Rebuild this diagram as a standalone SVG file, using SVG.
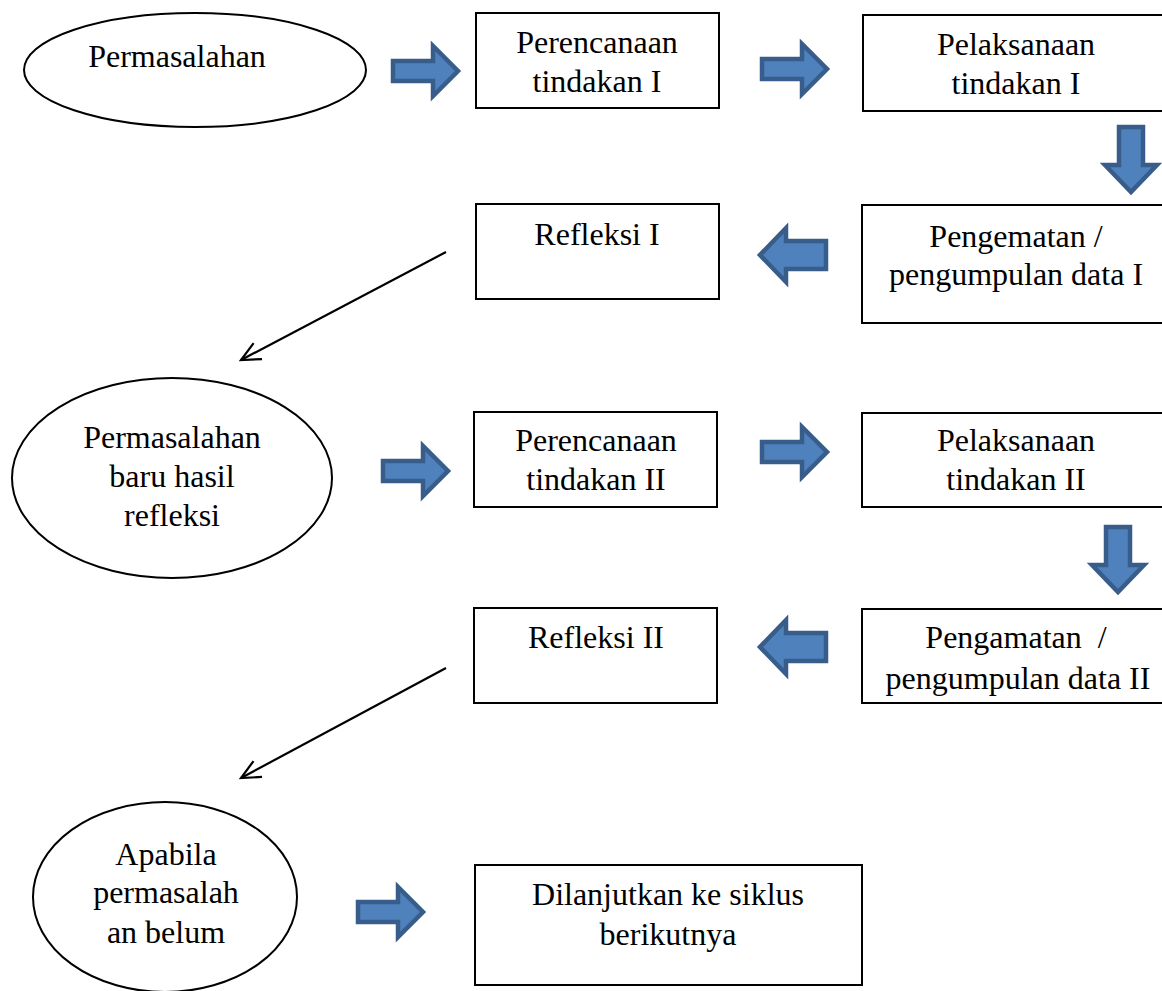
<svg xmlns="http://www.w3.org/2000/svg" xmlns:xlink="http://www.w3.org/1999/xlink" width="1162" height="991" viewBox="0 0 1162 991">
<style>
.node{fill:#fff;stroke:#000;stroke-width:2}
.t{font-family:"Liberation Serif","Times New Roman",serif;font-size:32px;fill:#000;text-anchor:middle}
.blk{fill:#4F81BD;stroke:#385D8A;stroke-width:4.5;stroke-linejoin:miter}
.ln{stroke:#000;stroke-width:2.2;fill:none}
</style>
<defs>
<path id="ar" class="blk" d="M2,-10 H42 V-25 L67,0 L42,25 V10 H2 Z"/>
<path id="al" class="blk" d="M-2,-14 H-42 V-27 L-68,0 L-42,27 V14 H-2 Z"/>
<path id="ad" class="blk" d="M-12,2 V40 H-26 L0,67 L26,40 H12 V2 Z"/>
<marker id="open" markerWidth="24" markerHeight="24" refX="21" refY="12" orient="auto" markerUnits="userSpaceOnUse">
<path d="M2,3 L21,12 L2,21" fill="none" stroke="#000" stroke-width="2.2"/>
</marker>
</defs>
<rect width="1162" height="991" fill="#fff"/>

<g id="n-permasalahan">
<ellipse class="node" cx="195" cy="70" rx="171" ry="57"/>
<text class="t" x="177" y="67">Permasalahan</text>
</g>
<g id="n-perencanaan1">
<rect class="node" x="476" y="13" width="243" height="95"/>
<text class="t" x="597" y="53">Perencanaan</text>
<text class="t" x="597" y="92">tindakan I</text>
</g>
<g id="n-pelaksanaan1">
<rect class="node" x="863" y="15" width="310" height="96"/>
<text class="t" x="1016" y="55">Pelaksanaan</text>
<text class="t" x="1016" y="94">tindakan I</text>
</g>
<g id="n-refleksi1">
<rect class="node" x="476" y="204" width="243" height="95"/>
<text class="t" x="597" y="245">Refleksi I</text>
</g>
<g id="n-pengamatan1">
<rect class="node" x="862" y="205" width="311" height="118"/>
<text class="t" x="1016" y="247">Pengematan /</text>
<text class="t" x="1016" y="285">pengumpulan data I</text>
</g>
<g id="n-permasalahan2">
<ellipse class="node" cx="172" cy="478" rx="160" ry="100"/>
<text class="t" x="172" y="448">Permasalahan</text>
<text class="t" x="172" y="487">baru hasil</text>
<text class="t" x="172" y="526">refleksi</text>
</g>
<g id="n-perencanaan2">
<rect class="node" x="474" y="412" width="243" height="95"/>
<text class="t" x="596" y="451">Perencanaan</text>
<text class="t" x="596" y="490">tindakan II</text>
</g>
<g id="n-pelaksanaan2">
<rect class="node" x="862" y="413" width="311" height="94"/>
<text class="t" x="1016" y="451">Pelaksanaan</text>
<text class="t" x="1016" y="490">tindakan II</text>
</g>
<g id="n-refleksi2">
<rect class="node" x="474" y="608" width="243" height="95"/>
<text class="t" x="596" y="648">Refleksi II</text>
</g>
<g id="n-pengamatan2">
<rect class="node" x="862" y="609" width="311" height="94"/>
<text class="t" x="1016" y="648" xml:space="preserve">Pengamatan  /</text>
<text class="t" x="1018" y="689">pengumpulan data II</text>
</g>
<g id="n-apabila">
<ellipse class="node" cx="165" cy="897" rx="132" ry="95"/>
<text class="t" x="166" y="865">Apabila</text>
<text class="t" x="166" y="903">permasalah</text>
<text class="t" x="166" y="943">an belum</text>
</g>
<g id="n-lanjut">
<rect class="node" x="475" y="865" width="387" height="120"/>
<text class="t" x="668" y="905">Dilanjutkan ke siklus</text>
<text class="t" x="668" y="945">berikutnya</text>
</g>

<g id="connectors">
<use xlink:href="#ar" x="391" y="71"/>
<use xlink:href="#ar" x="760" y="69"/>
<use xlink:href="#ad" x="1131" y="125"/>
<use xlink:href="#al" x="828" y="255"/>
<line class="ln" x1="446" y1="252" x2="241" y2="360" marker-end="url(#open)"/>
<use xlink:href="#ar" x="381" y="471"/>
<use xlink:href="#ar" x="760" y="452"/>
<use xlink:href="#ad" x="1118" y="525"/>
<use xlink:href="#al" x="828" y="647"/>
<line class="ln" x1="446" y1="668" x2="241" y2="778" marker-end="url(#open)"/>
<use xlink:href="#ar" x="356" y="912"/>
</g>
</svg>
